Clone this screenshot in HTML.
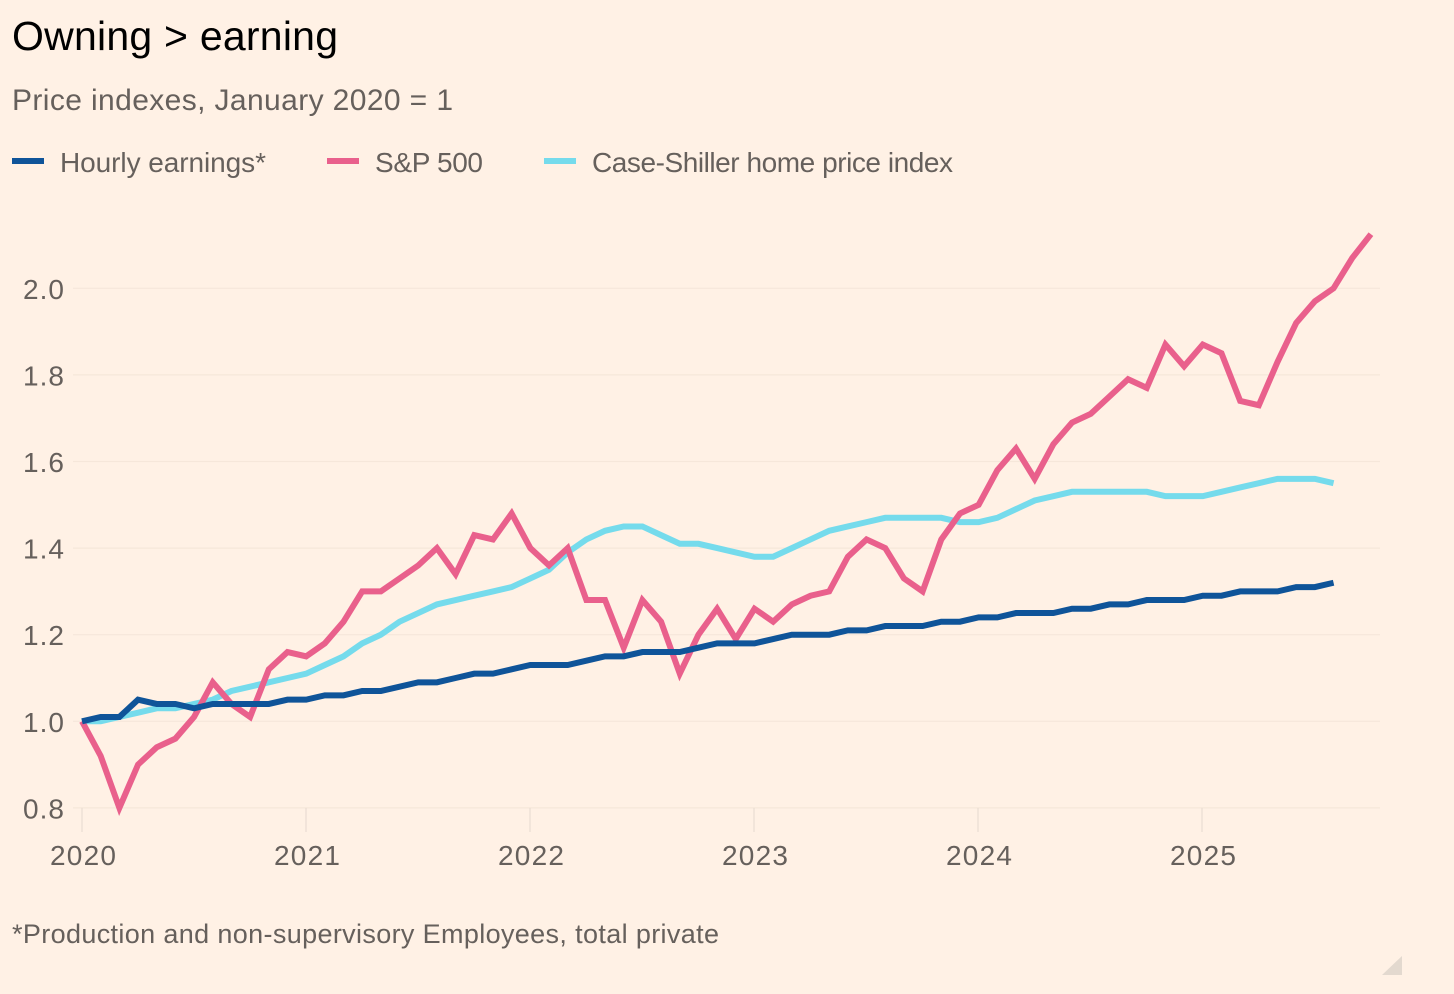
<!DOCTYPE html>
<html lang="en">
<head>
<meta charset="utf-8">
<title>Owning > earning</title>
<style>
html,body{margin:0;padding:0;background:#fff1e5;}
svg{display:block;}
text{font-family:"Liberation Sans",sans-serif;}
</style>
</head>
<body>
<svg id="chart" xmlns="http://www.w3.org/2000/svg" width="1454" height="994" viewBox="0 0 1454 994">
  <rect x="0" y="0" width="1454" height="994" fill="#fff1e5"/>
  <text x="12" y="50" font-size="41" fill="#000" textLength="326" lengthAdjust="spacing">Owning &gt; earning</text>
  <text x="12" y="110" font-size="30" fill="#66605c" textLength="441" lengthAdjust="spacing">Price indexes, January 2020 = 1</text>
  <g>
    <rect x="12" y="158" width="32" height="6" fill="#0f5499"/>
    <text x="60" y="172" font-size="28" fill="#66605c" textLength="206" lengthAdjust="spacing">Hourly earnings*</text>
    <rect x="327" y="158" width="32" height="6" fill="#e9608c"/>
    <text x="375" y="172" font-size="28" fill="#66605c" textLength="108" lengthAdjust="spacing">S&amp;P 500</text>
    <rect x="544" y="158" width="32" height="6" fill="#75dbec"/>
    <text x="592" y="172" font-size="28" fill="#66605c" textLength="361" lengthAdjust="spacing">Case-Shiller home price index</text>
  </g>
  <g id="grid"></g>
  <g id="xticks"></g>
  <g id="yticks"></g>
  <g id="series"></g>
  <text x="12" y="943" font-size="27" fill="#66605c" textLength="707" lengthAdjust="spacing">*Production and non-supervisory Employees, total private</text>
  <path d="M1382 975 L1402 956 L1402 975 Z" fill="#e3d9cf"/>
</svg>
<script>
const yTicks = [0.8, 1.0, 1.2, 1.4, 1.6, 1.8, 2.0];
const yearLabels = [2020, 2021, 2022, 2023, 2024, 2025];
const hourlyEarnings = [
  1.00,1.01,1.01,1.05,1.04,1.04,1.03,1.04,1.04,1.04,1.04,1.05,
  1.05,1.06,1.06,1.07,1.07,1.08,1.09,1.09,1.10,1.11,1.11,1.12,
  1.13,1.13,1.13,1.14,1.15,1.15,1.16,1.16,1.16,1.17,1.18,1.18,
  1.18,1.19,1.20,1.20,1.20,1.21,1.21,1.22,1.22,1.22,1.23,1.23,
  1.24,1.24,1.25,1.25,1.25,1.26,1.26,1.27,1.27,1.28,1.28,1.28,
  1.29,1.29,1.30,1.30,1.30,1.31,1.31,1.32
];
const sp500 = [
  1.00,0.92,0.80,0.90,0.94,0.96,1.01,1.09,1.04,1.01,1.12,1.16,
  1.15,1.18,1.23,1.30,1.30,1.33,1.36,1.40,1.34,1.43,1.42,1.48,
  1.40,1.36,1.40,1.28,1.28,1.17,1.28,1.23,1.11,1.20,1.26,1.19,
  1.26,1.23,1.27,1.29,1.30,1.38,1.42,1.40,1.33,1.30,1.42,1.48,
  1.50,1.58,1.63,1.56,1.64,1.69,1.71,1.75,1.79,1.77,1.87,1.82,
  1.87,1.85,1.74,1.73,1.83,1.92,1.97,2.00,2.07,2.125
];
const caseShiller = [
  1.00,1.00,1.01,1.02,1.03,1.03,1.04,1.05,1.07,1.08,1.09,1.10,
  1.11,1.13,1.15,1.18,1.20,1.23,1.25,1.27,1.28,1.29,1.30,1.31,
  1.33,1.35,1.39,1.42,1.44,1.45,1.45,1.43,1.41,1.41,1.40,1.39,
  1.38,1.38,1.40,1.42,1.44,1.45,1.46,1.47,1.47,1.47,1.47,1.46,
  1.46,1.47,1.49,1.51,1.52,1.53,1.53,1.53,1.53,1.53,1.52,1.52,
  1.52,1.53,1.54,1.55,1.56,1.56,1.56,1.55
];

const NS = 'http://www.w3.org/2000/svg';
const xScale = function (monthIndex) { return 82 + monthIndex * 18.68; };
const yearScale = function (yearIndex) { return 82 + yearIndex * 224; };
const yScale = function (value) { return 721.3 - (value - 1) * 433; };

const grid = document.getElementById('grid');
const xticks = document.getElementById('xticks');
const yticks = document.getElementById('yticks');
const seriesGroup = document.getElementById('series');

yTicks.forEach(function (value) {
  const line = document.createElementNS(NS, 'line');
  
  
  line.setAttribute('x1', 73);
  line.setAttribute('x2', 1380);
  line.setAttribute('y1', yScale(value));
  line.setAttribute('y2', yScale(value));
  line.setAttribute('stroke', '#f6e7da');
  line.setAttribute('stroke-width', 1.2);
  grid.appendChild(line);

  const label = document.createElementNS(NS, 'text');
  
  
  label.setAttribute('x', 64);
  label.setAttribute('y', yScale(value) + 10.5);
  label.setAttribute('text-anchor', 'end');
  label.setAttribute('font-size', 28);
  label.setAttribute('fill', '#66605c');
  label.setAttribute('textLength', 41);
  label.setAttribute('lengthAdjust', 'spacing');
  label.textContent = value.toFixed(1);
  yticks.appendChild(label);
});

yearLabels.forEach(function (year) {
  const x = yearScale(year - yearLabels[0]);
  const tick = document.createElementNS(NS, 'line');
  
  
  tick.setAttribute('x1', x);
  tick.setAttribute('x2', x);
  tick.setAttribute('y1', yScale(0.8));
  tick.setAttribute('y2', 832);
  tick.setAttribute('stroke', '#eaddd2');
  tick.setAttribute('stroke-width', 1.2);
  xticks.appendChild(tick);

  const label = document.createElementNS(NS, 'text');
  
  
  label.setAttribute('x', x + 1);
  label.setAttribute('y', 865);
  label.setAttribute('text-anchor', 'middle');
  label.setAttribute('font-size', 28);
  label.setAttribute('fill', '#66605c');
  label.setAttribute('textLength', 66);
  label.setAttribute('lengthAdjust', 'spacing');
  label.textContent = String(year);
  xticks.appendChild(label);
});

function pointsFor(values) {
  return values.map(function (value, i) {
    return xScale(i).toFixed(2) + ',' + yScale(value).toFixed(2);
  }).join(' ');
}

const caseShillerLine = document.createElementNS(NS, 'polyline');


caseShillerLine.setAttribute('points', pointsFor(caseShiller));
caseShillerLine.setAttribute('fill', 'none');
caseShillerLine.setAttribute('stroke', '#75dbec');
caseShillerLine.setAttribute('stroke-width', 6);
caseShillerLine.setAttribute('stroke-linejoin', 'miter');
seriesGroup.appendChild(caseShillerLine);

const sp500Line = document.createElementNS(NS, 'polyline');


sp500Line.setAttribute('points', pointsFor(sp500));
sp500Line.setAttribute('fill', 'none');
sp500Line.setAttribute('stroke', '#e9608c');
sp500Line.setAttribute('stroke-width', 6);
sp500Line.setAttribute('stroke-linejoin', 'miter');
seriesGroup.appendChild(sp500Line);

const earningsLine = document.createElementNS(NS, 'polyline');


earningsLine.setAttribute('points', pointsFor(hourlyEarnings));
earningsLine.setAttribute('fill', 'none');
earningsLine.setAttribute('stroke', '#0f5499');
earningsLine.setAttribute('stroke-width', 6);
earningsLine.setAttribute('stroke-linejoin', 'miter');
seriesGroup.appendChild(earningsLine);
</script>
</body>
</html>
